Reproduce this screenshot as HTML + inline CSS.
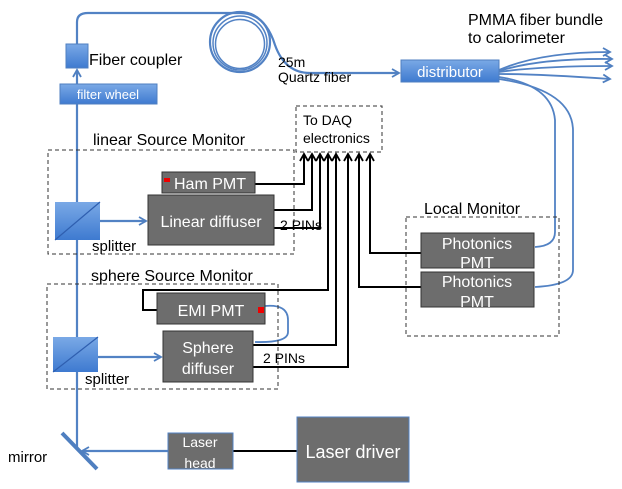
<!DOCTYPE html>
<html><head><meta charset="utf-8"><style>
body{margin:0;background:#fff}
svg{display:block}
text{font-family:"Liberation Sans",sans-serif}
</style></head><body>
<svg width="622" height="489" viewBox="0 0 622 489" xmlns="http://www.w3.org/2000/svg">
<defs>
<marker id="ab" markerWidth="10" markerHeight="10" refX="8" refY="5" orient="auto" markerUnits="userSpaceOnUse"><path d="M1,1 L8,5 L1,9" fill="none" stroke="#4f7fc0" stroke-width="1.8"/></marker>
<marker id="ak" markerWidth="10" markerHeight="10" refX="8" refY="5" orient="auto" markerUnits="userSpaceOnUse"><path d="M1,1 L8,5 L1,9" fill="none" stroke="#000" stroke-width="1.8"/></marker>
<linearGradient id="gb" x1="0" y1="0" x2="0" y2="1"><stop offset="0" stop-color="#7aa9e6"/><stop offset="1" stop-color="#3e7ad0"/></linearGradient>
</defs>
<g fill="none" stroke="#5282c4" stroke-width="2.2">
<path d="M77 450 L77 70" marker-end="url(#ab)"/>
<path d="M77 44 L77 22 Q77 13 88 13 L240 13"/>
<circle cx="240" cy="42" r="30"/>
<circle cx="240" cy="43" r="27" stroke-width="1.5"/>
<circle cx="240" cy="44" r="24.5" stroke-width="1.5"/>
<path d="M240 13 Q265 13 275 45 Q285 73 310 73 L399 73" marker-end="url(#ab)"/>
<path d="M499 70 Q540 52 610 52" marker-end="url(#ab)" stroke-width="1.8"/>
<path d="M499 71 Q540 58 612 59" marker-end="url(#ab)" stroke-width="1.8"/>
<path d="M499 72 Q540 66 612 66" marker-end="url(#ab)" stroke-width="1.8"/>
<path d="M499 74 Q540 74 610 79" marker-end="url(#ab)" stroke-width="1.8"/>
<path d="M499 77 Q552 85 555 120 L555 232 Q555 246 535 247" stroke-width="1.8"/>
<path d="M499 79 Q572 90 573 130 L573 270 Q573 285 535 287" stroke-width="1.8"/>
<path d="M78 221 L146 221" marker-end="url(#ab)"/>
<path d="M78 357 L161 357" marker-end="url(#ab)"/>
<path d="M168 451 L82 451" marker-end="url(#ab)"/>
<path d="M265 306 Q288 304 288 320 L288 332 Q288 343 255 342" stroke-width="1.8"/>
</g>
<line x1="62" y1="433" x2="97" y2="469" stroke="#4f7fc0" stroke-width="4"/>
<rect x="66" y="44" width="22" height="24" fill="url(#gb)" stroke="#4f7fc0"/>
<rect x="60" y="84" width="97" height="20" fill="url(#gb)" stroke="#4f7fc0"/>
<text x="108" y="99" font-size="13" fill="#fff" text-anchor="middle">filter wheel</text>
<rect x="401" y="60" width="98" height="22" fill="url(#gb)" stroke="#4f7fc0"/>
<text x="450" y="77" font-size="15" fill="#fff" text-anchor="middle">distributor</text>
<rect x="55" y="202" width="45" height="38" fill="url(#gb)"/>
<line x1="55" y1="240" x2="100" y2="202" stroke="#2f5fb0" stroke-width="1.2"/>
<rect x="53" y="337" width="45" height="35" fill="url(#gb)"/>
<line x1="53" y1="372" x2="98" y2="337" stroke="#2f5fb0" stroke-width="1.2"/>
<g fill="none" stroke="#333" stroke-width="1" stroke-dasharray="4,3">
<rect x="48" y="150" width="246" height="104"/>
<rect x="47" y="284" width="231" height="105"/>
<rect x="296" y="106" width="86" height="46"/>
<rect x="406" y="217" width="153" height="119"/>
</g>
<g fill="none" stroke="#000" stroke-width="2">
<path d="M255 184 L304 184 L304 154" marker-end="url(#ak)"/>
<path d="M274 210 L312 210 L312 154" marker-end="url(#ak)"/>
<path d="M274 228 L320 228 L320 154" marker-end="url(#ak)"/>
<path d="M157 310 L143 310 L143 290 L328 290 L328 154" marker-end="url(#ak)"/>
<path d="M253 345 L336 345 L336 154" marker-end="url(#ak)"/>
<path d="M253 367 L348 367 L348 154" marker-end="url(#ak)"/>
<path d="M421 287 L359 287 L359 154" marker-end="url(#ak)"/>
<path d="M421 253 L370 253 L370 154" marker-end="url(#ak)"/>
<path d="M233 451 L297 451"/>
</g>
<g fill="#6d6d6d" stroke="#333" stroke-width="1">
<rect x="162" y="172" width="93" height="21"/>
<rect x="148" y="195" width="126" height="50"/>
<rect x="157" y="293" width="108" height="31"/>
<rect x="163" y="331" width="90" height="51"/>
<rect x="421" y="233" width="113" height="35"/>
<rect x="421" y="272" width="113" height="35"/>
<rect x="297" y="417" width="112" height="65" stroke="#5282c4"/>
<rect x="168" y="433" width="65" height="36" stroke="#5282c4"/>
</g>
<rect x="164" y="178" width="6" height="4" fill="#e00"/>
<rect x="258" y="307" width="6" height="6" fill="#e00"/>
<g fill="#fff" font-size="16" text-anchor="middle">
<text x="210" y="189">Ham PMT</text>
<text x="211" y="227">Linear diffuser</text>
<text x="211" y="316">EMI PMT</text>
<text x="208" y="353">Sphere</text>
<text x="208" y="374">diffuser</text>
<text x="477" y="249">Photonics</text>
<text x="477" y="268">PMT</text>
<text x="477" y="287">Photonics</text>
<text x="477" y="307">PMT</text>
<text x="200" y="447" font-size="14">Laser</text>
<text x="200" y="468" font-size="14">head</text>
<text x="353" y="458" font-size="18">Laser driver</text>
</g>
<g fill="#000" font-size="15">
<text x="89" y="65" font-size="16">Fiber coupler</text>
<text x="278" y="67" font-size="14">25m</text>
<text x="278" y="82" font-size="14">Quartz fiber</text>
<text x="468" y="25" font-size="16">PMMA fiber bundle</text>
<text x="468" y="43" font-size="16">to calorimeter</text>
<text x="303" y="125" font-size="14">To DAQ</text>
<text x="303" y="143" font-size="14">electronics</text>
<text x="93" y="145" font-size="16">linear Source Monitor</text>
<text x="91" y="281" font-size="16">sphere Source Monitor</text>
<text x="424" y="214" font-size="16">Local Monitor</text>
<text x="92" y="251">splitter</text>
<text x="85" y="384">splitter</text>
<text x="280" y="230" font-size="14">2 PINs</text>
<text x="263" y="363" font-size="14">2 PINs</text>
<text x="8" y="462">mirror</text>
</g>
</svg>
</body></html>
